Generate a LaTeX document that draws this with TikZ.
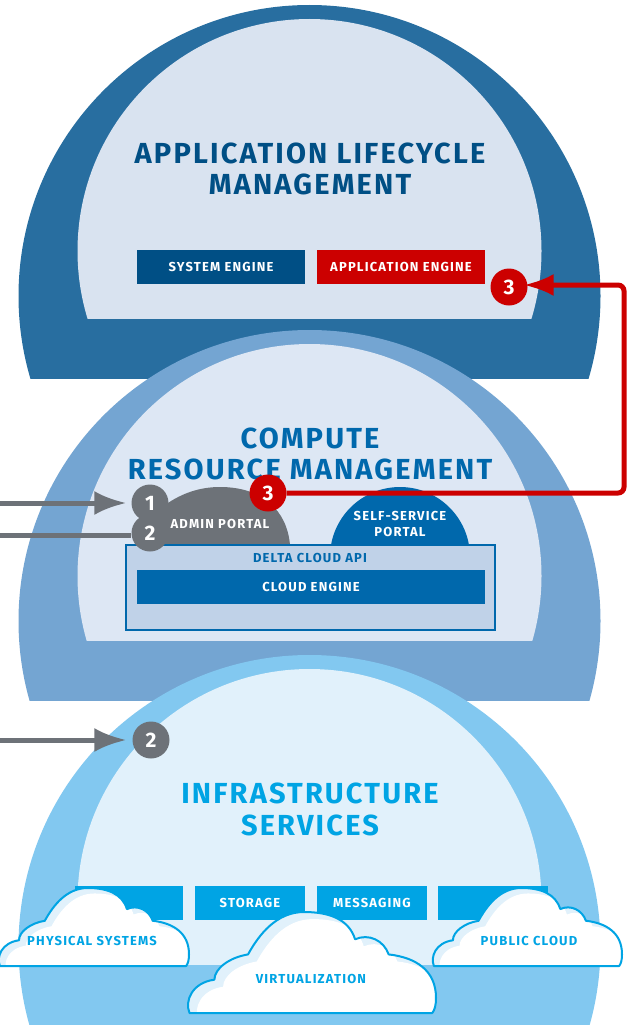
\documentclass[tikz,border=0pt]{standalone}
\usepackage{fontspec}
\setmainfont{Fira Sans}
\newfontfamily\titlefont{Fira Sans}[LetterSpace=7.5]
\newfontfamily\labelfont{Fira Sans}[LetterSpace=9]
\usetikzlibrary{arrows.meta}

\definecolor{darkdome}{HTML}{286EA0}
\definecolor{darkinner}{HTML}{D9E3F0}
\definecolor{middome}{HTML}{74A5D2}
\definecolor{midinner}{HTML}{DDE7F4}
\definecolor{lightdome}{HTML}{82C8F0}
\definecolor{lightinner}{HTML}{E1F1FB}
\definecolor{navyblue}{HTML}{004F85}
\definecolor{midblue}{HTML}{0068AC}
\definecolor{skyblue}{HTML}{00A4E4}
\definecolor{apired}{HTML}{CC0000}
\definecolor{apigray}{HTML}{6D7278}
\definecolor{apipanel}{HTML}{C0D2E8}

\def\cloudpath{(.01,0) .. controls (-.01,.12) and (.02,.30) .. (.11,.33)
    .. controls (.11,.44) and (.17,.55) .. (.245,.58)
    .. controls (.29,.78) and (.36,1.0) .. (.47,1.0)
    .. controls (.57,1.0) and (.65,.93) .. (.675,.73)
    .. controls (.73,.79) and (.79,.72) .. (.81,.58)
    .. controls (.92,.55) and (1.0,.42) .. (1.0,.15)
    .. controls (1.0,.08) and (.995,.03) .. (.985,0) -- cycle}

\tikzset{
    titletext/.style={font=\titlefont\fontsize{29}{30.5}\selectfont\bfseries, align=center},
    smalltext/.style={font=\labelfont\fontsize{13}{16}\selectfont\bfseries, align=center},
    enginebox/.style={smalltext, text=white, minimum height=34pt, inner sep=0pt},
    badge/.style={circle, fill=#1, text=white, minimum size=37pt, inner sep=0pt,
        font=\fontsize{21}{21}\selectfont\bfseries},
    grayline/.style={apigray, line width=5pt},
    cloudpic/.pic={
        \fill[lightinner] \cloudpath;
        \begin{scope}
            \clip \cloudpath;
            \fill[white, shift={(.035,-.07)}] \cloudpath;
        \end{scope}
        \draw[skyblue, line width=2pt, line join=round] \cloudpath;
    }
}

\begin{document}
\begin{tikzpicture}[x=1pt, y=-1pt]

\useasboundingbox (0,0) rectangle (636,1025);

\foreach \off/\outer/\inner/\last/\base in {0/darkdome/darkinner/318/378, 325/middome/midinner/640/700, 650/lightdome/lightinner/964/1025} {
    \begin{scope}
        \clip (0,\off) rectangle (636,\base);
        \fill[\outer] (309.5,{\off+296}) circle [radius=291];
    \end{scope}
    \begin{scope}
        \clip (0,\off) rectangle (636,\last);
        \fill[\inner] (309.5,{\off+251}) circle [radius=232];
    \end{scope}
}

% top dome
\node[titletext, text=navyblue] (lifecycle) at (310,169) {APPLICATION LIFECYCLE\\[1pt]MANAGEMENT};
\node[enginebox, fill=navyblue, minimum width=168pt] (sysengine) at (221,267) {SYSTEM ENGINE};
\node[enginebox, fill=apired, minimum width=168pt] (appengine) at (401,267) {APPLICATION ENGINE};

% middle dome
\node[titletext, text=midblue] (compute) at (310,454) {COMPUTE\\[1pt]RESOURCE MANAGEMENT};

\fill[apigray] (150,545) -- (165,505) .. controls (182,493) and (200,487) .. (220,487)
    .. controls (262,487) and (287,510) .. (290,545) -- cycle;
\fill[midblue] (400,557) circle [radius=70];

\node[smalltext, text=white] (adminportal) at (220,524) {ADMIN PORTAL};
\node[smalltext, text=white] (selfportal) at (400,524) {SELF-SERVICE\\PORTAL};

\node[draw=midblue, fill=apipanel, line width=2pt, minimum width=369pt, minimum height=85pt] (deltabox) at (310.5,587.5) {};
\node[smalltext, text=midblue] (deltaapi) at (310,558) {DELTA CLOUD API};
\node[enginebox, fill=midblue, minimum width=348pt] (cloudengine) at (311,587) {CLOUD ENGINE};

% bottom dome
\node[titletext, text=skyblue] (infra) at (310,809.5) {INFRASTRUCTURE\\[1pt]SERVICES};

\foreach \cx/\bw/\lab/\nm in {129/108/{}/boxa, 250/110/STORAGE/storage, 372/110/MESSAGING/messaging, 493/110/{}/boxb}
    \node[enginebox, fill=skyblue, minimum width=\bw pt] (\nm) at (\cx,903) {\lab};

\pic[shift={(-2,966)}, xscale=191, yscale=-78] {cloudpic};
\pic[shift={(432,966)}, xscale=190, yscale=-78] {cloudpic};
\pic[shift={(187,1013)}, xscale=249, yscale=-101] {cloudpic};

\node[smalltext, text=skyblue] (physical) at (92,941) {PHYSICAL SYSTEMS};
\node[smalltext, text=skyblue] (publiccloud) at (529,941) {PUBLIC CLOUD};
\node[smalltext, text=skyblue] (virtual) at (311,979) {VIRTUALIZATION};

% numbered badges and arrows
\node[badge=apigray] (one) at (150,503) {1};
\node[badge=apigray] (two) at (150,533) {2};
\node[badge=apigray] (twolow) at (151,740) {2};
\node[badge=apired] (three) at (268,493) {3};
\node[badge=apired] (threetop) at (509,287) {3};

\coordinate (inone) at (0,503);
\coordinate (intwo) at (0,535);
\coordinate (inlow) at (0,740);
\coordinate (turn) at (624,285);

\draw[grayline, -{Latex[length=32pt,width=24pt]}, shorten >=5pt] (inone) -- (one);
\draw[grayline] (intwo) -- (intwo -| two.west);
\draw[grayline, -{Latex[length=32pt,width=24pt]}, shorten >=6pt] (inlow) -- (twolow);

\draw[apired, line width=5pt, rounded corners=6pt, -{Latex[length=30pt,width=22pt]}, shorten >=-4pt]
    (three.east) -- (three.east -| turn) -- (turn) -- (threetop.east |- turn);

\end{tikzpicture}
\end{document}
